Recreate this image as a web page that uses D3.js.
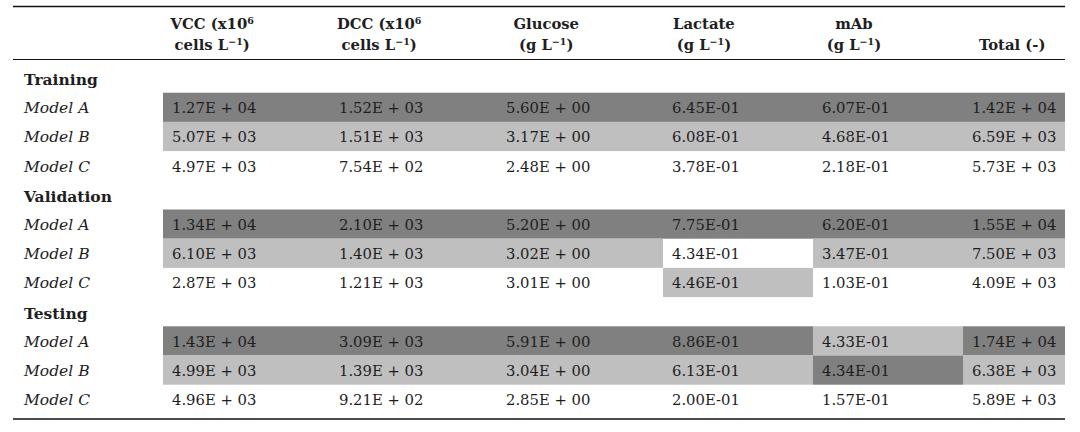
<!DOCTYPE html>
<html>
<head>
<meta charset="utf-8">
<script src="https://cdn.jsdelivr.net/npm/d3@7"></script>
<style>
  body { margin: 0; background: #fff; }
  svg text { font-family: "DejaVu Serif", serif; font-size: 14.8px; fill: #1e1e1e; }
  svg text.head { font-size: 14.8px; font-weight: bold; }
  svg text.set { font-size: 15.5px; font-weight: bold; }
  svg text.model { font-size: 15.5px; font-style: italic; }
</style>
</head>
<body>
<script>
// column headers, two lines each (a superscript part is marked with ^)
var headers = [
  ["VCC (x10^6", "cells L^−1)"],
  ["DCC (x10^6", "cells L^−1)"],
  ["Glucose", "(g L^−1)"],
  ["Lactate", "(g L^−1)"],
  ["mAb", "(g L^−1)"],
  ["", "Total (-)"]
];

var sets = ["Training", "Validation", "Testing"];
var models = ["Model A", "Model B", "Model C"];

// error values per set, per model: VCC, DCC, Glucose, Lactate, mAb, Total
var training = [
  [12700, 1520, 5.60, 0.645, 0.607, 14200],
  [5070, 1510, 3.17, 0.608, 0.468, 6590],
  [4970, 754, 2.48, 0.378, 0.218, 5730]
];
var validation = [
  [13400, 2100, 5.20, 0.775, 0.620, 15500],
  [6100, 1400, 3.02, 0.434, 0.347, 7500],
  [2870, 1210, 3.01, 0.446, 0.103, 4090]
];
var testing = [
  [14300, 3090, 5.91, 0.886, 0.433, 17400],
  [4990, 1390, 3.04, 0.613, 0.434, 6380],
  [4960, 921, 2.85, 0.200, 0.157, 5890]
];

// cell shading: 0 none, 1 light grey, 2 dark grey
var trainingShade = [[2, 2, 2, 2, 2, 2], [1, 1, 1, 1, 1, 1], [0, 0, 0, 0, 0, 0]];
var validationShade = [[2, 2, 2, 2, 2, 2], [1, 1, 1, 0, 1, 1], [0, 0, 0, 1, 0, 0]];
var testingShade = [[2, 2, 2, 2, 1, 2], [1, 1, 1, 1, 2, 1], [0, 0, 0, 0, 0, 0]];

var values = [training, validation, testing];
var shades = [trainingShade, validationShade, testingShade];

var width = 1080, height = 432;
var left = 13, right = 1065;
var colWidths = [167, 167, 166, 150, 150, 102];
var colStart = 163;
var shadeColor = ["none", "#bfbfbf", "#808080"];

// one flat list of table rows: section titles and model rows
var rows = [];
sets.forEach(function (s, i) {
  rows.push({ type: "set", label: s });
  models.forEach(function (m, j) {
    rows.push({ type: "model", label: m, vals: values[i][j], shade: shades[i][j] });
  });
});

var edges = [colStart].concat(Array.from(d3.cumsum(colWidths), function (w) { return colStart + w; }));
var x = d3.scaleOrdinal().domain(d3.range(headers.length)).range(edges.slice(0, -1));
var y = d3.scaleBand().domain(d3.range(rows.length)).range([63.5, 63.5 + 29.2 * rows.length]).padding(0);
var base = 20.5; // text baseline inside a row

function fmt(v) {
  var p = v.toExponential(2).split("e");
  var e = +p[1];
  var ee = (Math.abs(e) < 10 ? "0" : "") + Math.abs(e);
  return e < 0 ? p[0] + "E-" + ee : p[0] + "E + " + ee;
}

var svg = d3.select("body").append("svg")
  .attr("width", width)
  .attr("height", height);

// shaded cells
var rowG = svg.selectAll("g.row")
  .data(rows)
  .enter()
  .append("g")
  .attr("class", "row")
  .attr("transform", function (d, i) { return "translate(0," + y(i) + ")"; });

rowG.filter(function (d) { return d.type === "model"; })
  .selectAll("rect")
  .data(function (d) { return d.shade; })
  .enter()
  .append("rect")
  .attr("x", function (d, i) { return x(i); })
  .attr("y", 0)
  .attr("width", function (d, i) { return colWidths[i]; })
  .attr("height", y.bandwidth())
  .attr("fill", function (d) { return shadeColor[d]; });

// row labels
rowG.append("text")
  .attr("class", function (d) { return d.type; })
  .attr("x", 24)
  .attr("y", function (d) { return d.type === "set" ? base + 1 : base; })
  .text(function (d) { return d.label; });

// values
rowG.filter(function (d) { return d.type === "model"; })
  .selectAll("text.val")
  .data(function (d) { return d.vals; })
  .enter()
  .append("text")
  .attr("class", "val")
  .attr("x", function (d, i) { return x(i) + 9; })
  .attr("y", base)
  .text(function (d) { return fmt(d); });

// headers centred on the value text of the first model row
var firstVals = rowG.filter(function (d, i) { return i === 1; }).selectAll("text.val").nodes();
var centres = firstVals.map(function (n) { var b = n.getBBox(); return b.x + b.width / 2 - 2; });

function writeLine(sel, str) {
  str.split(/(\^[^)]*)/).forEach(function (part) {
    if (!part) return;
    if (part[0] === "^") {
      sel.append("tspan").attr("baseline-shift", "super").style("font-size", "9.5px").text(part.slice(1));
    } else {
      sel.append("tspan").text(part);
    }
  });
}

headers.forEach(function (h, i) {
  [29, 50].forEach(function (yy, k) {
    if (!h[k]) return;
    var t = svg.append("text")
      .attr("class", "head")
      .attr("x", centres[i])
      .attr("y", yy)
      .attr("text-anchor", "middle");
    writeLine(t, h[k]);
  });
});

// rules
svg.append("line").attr("x1", left).attr("x2", right).attr("y1", 6.5).attr("y2", 6.5)
  .attr("stroke", "#111").attr("stroke-width", 1.6);
svg.append("line").attr("x1", left).attr("x2", right).attr("y1", 59.5).attr("y2", 59.5)
  .attr("stroke", "#111").attr("stroke-width", 1);
svg.append("line").attr("x1", left).attr("x2", right).attr("y1", 419).attr("y2", 419)
  .attr("stroke", "#111").attr("stroke-width", 1.6);
</script>
</body>
</html>
